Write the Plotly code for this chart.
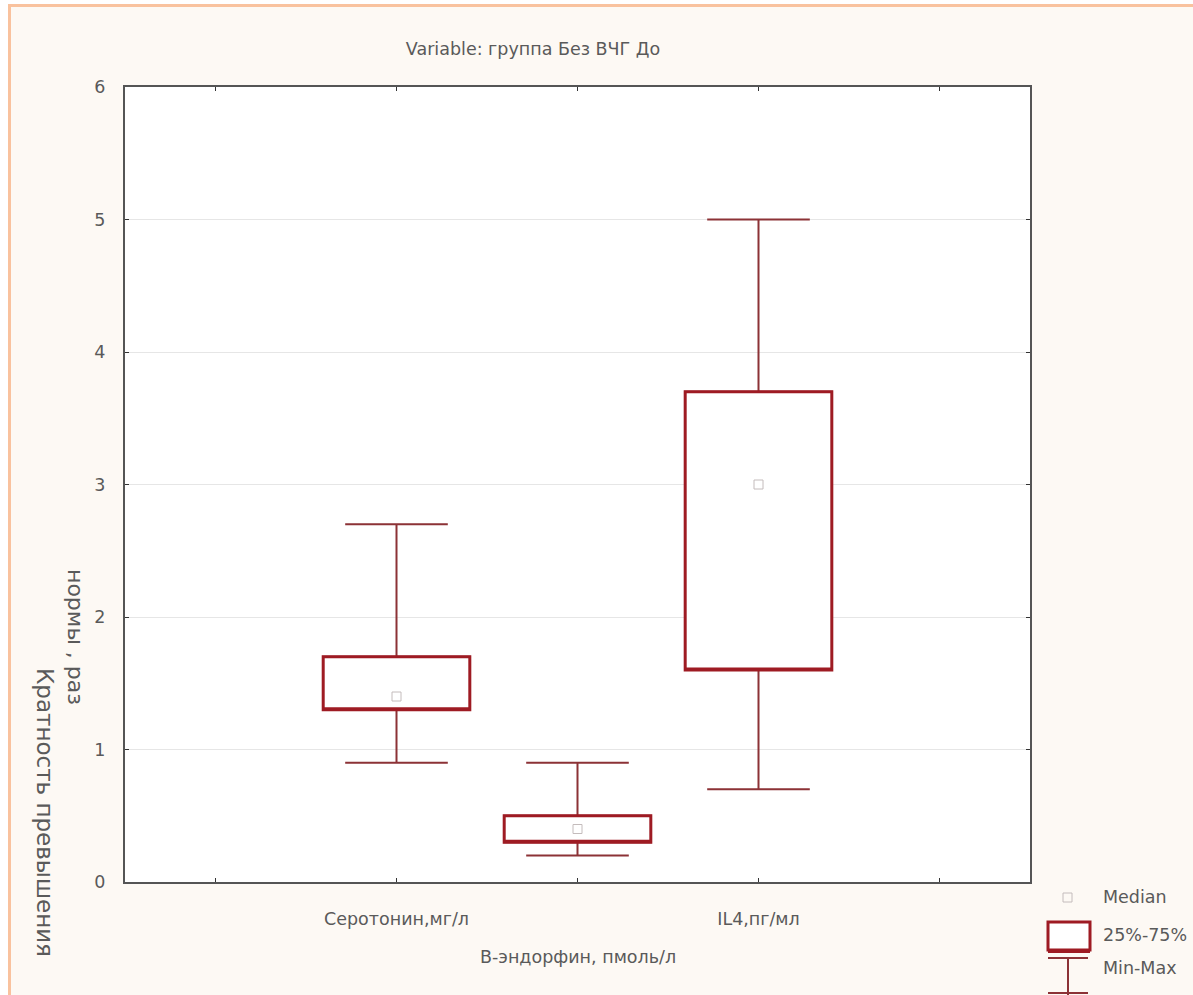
import plotly.graph_objects as go

# ---- data ----
categories = ["Серотонин,мг/л", "В-эндорфин, пмоль/л", "IL4,пг/мл"]
min_vals = [0.9, 0.2, 0.7]
q1_vals = [1.3, 0.3, 1.6]
median_vals = [1.4, 0.4, 3.0]
q3_vals = [1.7, 0.5, 3.7]
max_vals = [2.7, 0.9, 5.0]
y_ticks = [0, 1, 2, 3, 4, 5, 6]
title_text = "Variable: группа Без ВЧГ До"
y_title_parts = ["Кратность превышения", "нормы , раз"]
legend_labels = ["Median", "25%-75%", "Min-Max"]

positions = list(range(len(categories)))

W, H = 1193, 995
L, R, T, B = 125, 163, 87, 113
PW, PH = W - L - R, H - T - B


def px(x):
    return (x - L) / PW


def py(y):
    return (H - B - y) / PH


FONT = "DejaVu Sans"
TXT = "#5a5a5a"
BOX_RED = "#9e1b23"
WHISK = "#8c3236"
BG = "#fdf9f4"

fig = go.Figure()

# whiskers (min-max) + thin box
fig.add_trace(go.Box(
    x=positions, q1=q1_vals, median=q1_vals, q3=q3_vals,
    lowerfence=min_vals, upperfence=max_vals,
    width=0.81, whiskerwidth=0.7, boxpoints=False,
    line=dict(color=WHISK, width=2), fillcolor="white",
    showlegend=False, hoverinfo="skip",
))
# thick 25%-75% box outline
fig.add_trace(go.Box(
    x=positions, q1=q1_vals, median=q1_vals, q3=q3_vals,
    lowerfence=q1_vals, upperfence=q3_vals,
    width=0.81, whiskerwidth=0, boxpoints=False,
    line=dict(color=BOX_RED, width=3), fillcolor="white",
    showlegend=False, hoverinfo="skip",
))
# median markers
fig.add_trace(go.Scatter(
    x=positions, y=median_vals, mode="markers",
    marker=dict(symbol="square-open", size=9, color="#c4bcbc", line=dict(width=1)),
    showlegend=False, hoverinfo="skip",
))

shapes = []
# orange frame of the picture
shapes.append(dict(type="rect", xref="paper", yref="paper", x0=px(0), x1=px(W), y0=py(0), y1=py(4),
                   fillcolor="white", line=dict(width=0), layer="below"))
shapes.append(dict(type="rect", xref="paper", yref="paper", x0=px(0), x1=px(8), y0=py(0), y1=py(H),
                   fillcolor="white", line=dict(width=0), layer="below"))
shapes.append(dict(type="line", xref="paper", yref="paper", x0=px(8), x1=px(W), y0=py(5.5), y1=py(5.5),
                   line=dict(color="#f9c29e", width=3)))
shapes.append(dict(type="line", xref="paper", yref="paper", x0=px(9.5), x1=px(9.5), y0=py(5), y1=py(H),
                   line=dict(color="#f9c29e", width=3)))

# legend icons
shapes.append(dict(type="rect", xref="paper", yref="paper", x0=px(1063), x1=px(1072), y0=py(902), y1=py(893),
                   line=dict(color="#c4bcbc", width=1)))
shapes.append(dict(type="rect", xref="paper", yref="paper", x0=px(1048), x1=px(1090), y0=py(950), y1=py(922),
                   line=dict(color=BOX_RED, width=3), fillcolor="white"))
shapes.append(dict(type="line", xref="paper", yref="paper", x0=px(1048), x1=px(1090), y0=py(951), y1=py(951),
                   line=dict(color=BOX_RED, width=4)))
shapes.append(dict(type="line", xref="paper", yref="paper", x0=px(1048), x1=px(1088), y0=py(958), y1=py(958),
                   line=dict(color=WHISK, width=2)))
shapes.append(dict(type="line", xref="paper", yref="paper", x0=px(1068), x1=px(1068), y0=py(958), y1=py(995),
                   line=dict(color=WHISK, width=2)))
shapes.append(dict(type="line", xref="paper", yref="paper", x0=px(1048), x1=px(1088), y0=py(993), y1=py(993),
                   line=dict(color=WHISK, width=2)))

annotations = []
for lbl, yy in zip(legend_labels, [897, 935, 968]):
    annotations.append(dict(text=lbl, xref="paper", yref="paper", x=px(1101), y=py(yy),
                            xanchor="left", yanchor="middle", showarrow=False,
                            font=dict(family=FONT, size=17.5, color=TXT)))
# second-row category label
annotations.append(dict(text=categories[1], xref="x", yref="paper", x=positions[1], y=py(957),
                        xanchor="center", yanchor="middle", showarrow=False,
                        font=dict(family=FONT, size=17.5, color=TXT)))
# y axis title (two rotated pieces)
annotations.append(dict(text=y_title_parts[0], xref="paper", yref="paper", x=px(45), y=py(812),
                        xanchor="center", yanchor="middle", showarrow=False, textangle=90,
                        font=dict(family=FONT, size=23, color=TXT)))
annotations.append(dict(text=y_title_parts[1], xref="paper", yref="paper", x=px(76), y=py(637),
                        xanchor="center", yanchor="middle", showarrow=False, textangle=90,
                        font=dict(family=FONT, size=22, color=TXT)))

fig.update_layout(
    width=W, height=H,
    margin=dict(l=L, r=R, t=T, b=B, pad=0),
    paper_bgcolor=BG, plot_bgcolor="white",
    boxmode="overlay",
    showlegend=False,
    title=dict(text=title_text, x=px(533), xref="paper", xanchor="center",
               y=1 - 49 / H, yref="container", yanchor="middle",
               font=dict(family=FONT, size=17.5, color=TXT)),
    font=dict(family=FONT, size=17.5, color=TXT),
    shapes=shapes,
    annotations=annotations,
    xaxis=dict(
        range=[-1.5, len(categories) + 0.5],
        tickvals=[-1] + positions + [len(categories)],
        ticktext=["", categories[0], "", categories[2], ""],
        ticks="inside", ticklen=4, tickcolor="#333", tickwidth=1,
        showline=True, linecolor="#555", linewidth=2, mirror="ticks",
        showgrid=False, zeroline=False, ticklabelstandoff=20,
        tickfont=dict(family=FONT, size=17.5, color=TXT),
    ),
    yaxis=dict(
        range=[0, 6], tickvals=y_ticks,
        ticks="inside", ticklen=4, tickcolor="#333", tickwidth=1,
        showline=True, linecolor="#555", linewidth=2, mirror="ticks",
        showgrid=True, gridcolor="#e6e6e6", gridwidth=1, zeroline=False,
        ticklabelstandoff=14,
        tickfont=dict(family=FONT, size=17.5, color=TXT),
    ),
)

fig.write_html("out.html", config={"displayModeBar": False},
               post_script="document.body.style.margin='0px';")
